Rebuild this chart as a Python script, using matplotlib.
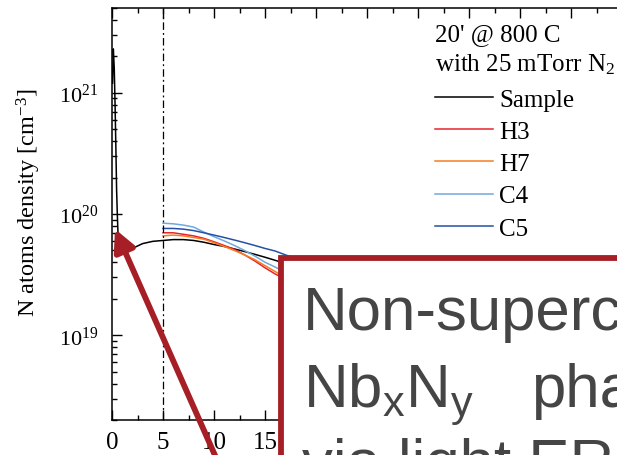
import matplotlib
matplotlib.use('Agg')
import matplotlib.pyplot as plt
from matplotlib.patches import Rectangle, FancyArrowPatch
from matplotlib.ticker import MultipleLocator, LogLocator, NullFormatter, FuncFormatter

plt.rcParams['font.family'] = ['Liberation Serif', 'DejaVu Serif']
plt.rcParams['mathtext.fontset'] = 'custom'
plt.rcParams['mathtext.rm'] = 'Liberation Serif'
plt.rcParams['mathtext.it'] = 'Liberation Serif:italic'

# ERDA nitrogen depth profiles (depth in nm, density in cm^-3)
sample_depth = [0.05, 0.13, 0.22, 0.3, 0.37, 0.45, 0.52, 0.6, 0.8, 1.0, 1.5, 2, 3, 4, 5,
                6, 7, 8, 9, 10, 11, 12, 13, 14, 15, 16, 17, 18, 20]
sample_density = [1.2e21, 2.3e21, 1.6e21, 8e20, 3.9e20, 1.6e20, 1.0e20, 6.5e19, 5.0e19,
                  4.7e19, 4.9e19, 5.2e19, 5.7e19, 5.95e19, 6.05e19, 6.15e19, 6.15e19, 6.05e19,
                  5.85e19, 5.6e19, 5.4e19, 5.15e19, 4.9e19, 4.65e19, 4.4e19, 4.15e19, 3.9e19,
                  3.7e19, 3.3e19]

cavity_depth = [5, 6, 7, 8, 9, 10, 11, 12, 13, 14, 15, 16, 17, 18, 20]
h3_density = [7.0e19, 7.0e19, 6.8e19, 6.6e19, 6.3e19, 5.9e19, 5.5e19, 5.1e19, 4.6e19,
              4.1e19, 3.6e19, 3.2e19, 2.9e19, 2.6e19, 2.0e19]
h7_density = [6.6e19, 6.7e19, 6.6e19, 6.4e19, 6.2e19, 5.8e19, 5.4e19, 5.0e19, 4.6e19,
              4.2e19, 3.75e19, 3.35e19, 3.0e19, 2.7e19, 2.1e19]
c4_density = [8.4e19, 8.3e19, 8.1e19, 7.8e19, 7.1e19, 6.5e19, 6.0e19, 5.5e19, 5.0e19,
              4.5e19, 4.0e19, 3.65e19, 3.3e19, 3.0e19, 2.4e19]
c5_density = [7.6e19, 7.6e19, 7.5e19, 7.3e19, 7.0e19, 6.7e19, 6.4e19, 6.1e19, 5.8e19,
              5.5e19, 5.2e19, 4.95e19, 4.6e19, 4.3e19, 3.7e19]

W, H = 617, 456
AX_W = 612
fig = plt.figure(figsize=(W / 100, H / 100), dpi=100)
ax = fig.add_axes([112 / W, 35 / H, AX_W / W, 412 / H])

lw = 1.1
ax.plot(sample_depth, sample_density, color='black', lw=lw, label='Sample')
ax.plot(cavity_depth, h3_density, color='#e8232b', lw=lw, label='H3')
ax.plot(cavity_depth, h7_density, color='#f47c20', lw=lw, label='H7')
ax.plot(cavity_depth, c4_density, color='#6fa8de', lw=lw, label='C4')
ax.plot(cavity_depth, c5_density, color='#2451a6', lw=lw, label='C5')
ax.axvline(5, color='black', lw=0.9, ls=(0, (6, 2.5, 1.5, 2.5)))

ax.set_yscale('log')
ax.set_xlim(0, 60)
ax.set_ylim(2e18, 5e21)
ax.xaxis.set_major_locator(MultipleLocator(5))
ax.xaxis.set_minor_locator(MultipleLocator(2.5))
# labels past 15 nm sit under the callout box
ax.xaxis.set_major_formatter(FuncFormatter(lambda v, pos: f'{v:g}' if v <= 15 else ''))
ax.yaxis.set_major_locator(LogLocator(base=10))
ax.yaxis.set_minor_locator(LogLocator(base=10, subs=range(2, 10)))
ax.yaxis.set_minor_formatter(NullFormatter())
ax.tick_params(which='both', direction='in', top=True, right=True, width=1.0)
ax.tick_params(which='major', length=7)
ax.tick_params(which='minor', length=3.5)
ax.tick_params(axis='x', labelsize=18, pad=8)
ax.tick_params(axis='y', labelsize=16, pad=10)
for s in ax.spines.values():
    s.set_linewidth(1.1)

ax.set_ylabel('N atoms density [cm$^{-3}$]', fontsize=17.5)
ax.yaxis.set_label_coords((43 - 112) / AX_W, 0.53)

# legend header and entries
fig.text(435 / W, 1 - 41 / H, "20' @ 800 C", fontsize=18, va='baseline')
fig.text(435 / W, 1 - 71 / H, 'with 25 mTorr N$_2$', fontsize=18, va='baseline')
ax.legend(loc='upper left', bbox_to_anchor=(435 / W, 1 - 89 / H),
          bbox_transform=fig.transFigure, frameon=False,
          fontsize=18, handlelength=2.32, handletextpad=0.24,
          labelspacing=0.39, borderpad=0, borderaxespad=0)

# callout box over the lower right of the plot
red = '#a61f26'
box = Rectangle((281 / W, -0.2), 1.0, (H - 259) / H + 0.2, transform=fig.transFigure,
                facecolor='white', edgecolor=red, lw=4.2, clip_on=False, zorder=10)
fig.add_artist(box)

grey = '#454545'
tkw = dict(family=['Liberation Sans', 'DejaVu Sans'], fontsize=44.5, color=grey,
           va='baseline', ha='left', zorder=11)
fig.text(303 / W, 1 - 330 / H, 'Non-superconducting', **tkw)
fig.text(303 / W, 1 - 407 / H, r'Nb$\mathregular{_x}$N$\mathregular{_y}$', **tkw)
fig.text(531 / W, 1 - 407 / H, 'phase', **tkw)
fig.text(302 / W, 1 - 482 / H, 'via light ERDA', **tkw)

arrow = FancyArrowPatch((221 / W, -14 / H), (115 / W, 1 - 230 / H),
                        transform=fig.transFigure, arrowstyle='-|>',
                        mutation_scale=32, lw=4.2, color=red,
                        shrinkA=0, shrinkB=0, zorder=12)
fig.add_artist(arrow)

fig.savefig('out.png', dpi=100)
